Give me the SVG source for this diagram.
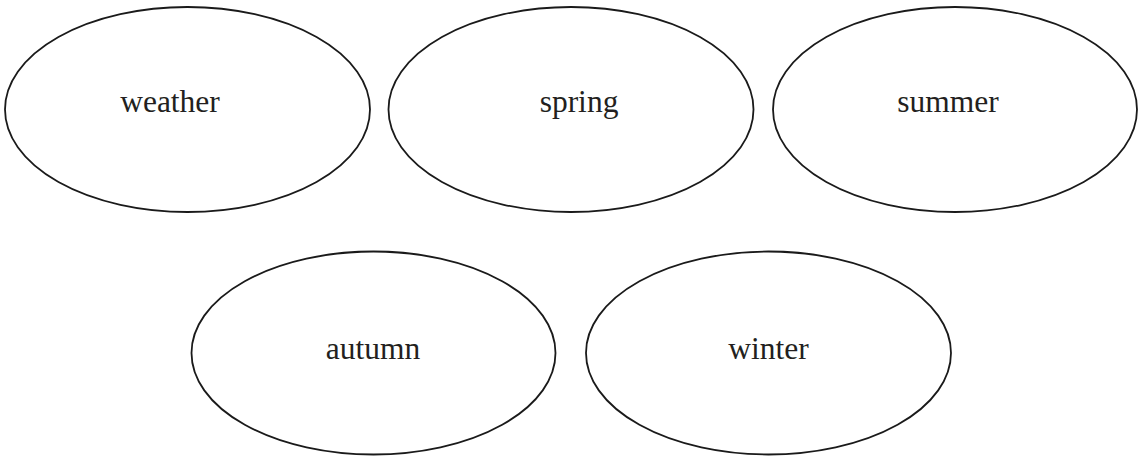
<svg xmlns="http://www.w3.org/2000/svg" width="1141" height="457" viewBox="0 0 1141 457">
<style>
.n ellipse{fill:#fff;stroke:#1a1a1a;stroke-width:1.8}
.n text{font-family:"Liberation Serif","Times New Roman",serif;font-size:31.5px;fill:#231f20;text-anchor:middle}
</style>
<rect width="1141" height="457" fill="#fff"/>
<g id="connectors"></g>
<g id="weather" class="n"><ellipse cx="187.5" cy="109.5" rx="182.5" ry="102.5"/><text x="170" y="112">weather</text></g>
<g id="spring" class="n"><ellipse cx="571" cy="109.5" rx="182.5" ry="102.5"/><text x="579" y="112">spring</text></g>
<g id="summer" class="n"><ellipse cx="955" cy="109.5" rx="182" ry="102.5"/><text x="948" y="112">summer</text></g>
<g id="autumn" class="n"><ellipse cx="373.5" cy="353" rx="182" ry="101.5"/><text x="373" y="359">autumn</text></g>
<g id="winter" class="n"><ellipse cx="768.5" cy="353" rx="182.5" ry="101.5"/><text x="768.5" y="359">winter</text></g>
</svg>
